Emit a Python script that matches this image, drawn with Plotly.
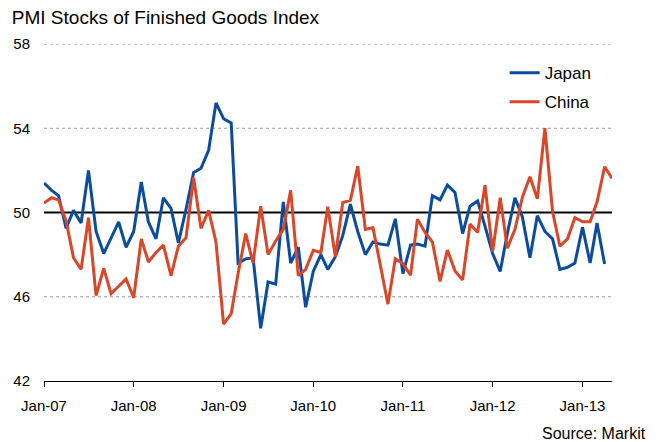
import pandas as pd
import plotly.graph_objects as go

months = pd.date_range("2007-01-01", "2013-05-01", freq="MS")

japan = [51.4, 51.05, 50.8, 49.25, 50.1, 49.5, 52.0, 49.1, 48.05, 48.8, 49.55, 48.35,
         49.1, 51.45, 49.55, 48.75, 50.7, 50.2, 48.55, 50.15, 51.9, 52.1, 52.95, 55.2,
         54.45, 54.25, 47.6, 47.8, 47.85, 44.5, 46.7, 46.6, 50.5, 47.6, 48.35, 45.5,
         47.2, 48.0, 47.3, 47.9, 48.9, 50.4, 49.1, 48.0, 48.6, 48.5, 48.45, 49.7,
         47.1, 48.45, 48.5, 48.4, 50.8, 50.6, 51.3, 50.95, 49.0, 50.3, 50.55, 49.35,
         48.05, 47.2, 49.0, 50.7, 49.8, 47.85, 49.85, 49.1, 48.75, 47.3, 47.4, 47.6,
         49.3, 47.6, 49.5, 47.55, None]

china = [50.45, 50.7, 50.6, 49.6, 47.85, 47.3, 49.75, 46.05, 47.35, 46.15, 46.5, 46.85,
         45.95, 48.75, 47.65, 48.1, 48.45, 47.0, 48.4, 48.8, 51.65, 49.25, 50.1, 48.6,
         44.7, 45.2, 47.1, 49.0, 47.6, 50.3, 48.0, 48.65, 49.2, 51.05, 47.0, 47.3,
         48.2, 48.1, 50.27, 47.9, 50.47, 50.58, 52.2, 49.2, 49.28, 47.45, 45.65, 47.8,
         47.57, 47.02, 49.68, 49.05, 48.6, 46.73, 48.22, 47.22, 46.8, 49.45, 49.05, 51.3,
         48.15, 50.7, 48.3, 49.2, 50.72, 51.7, 50.65, 54.0, 50.05, 48.4, 48.75, 49.76,
         49.56, 49.56, 50.5, 52.17, 51.63]

y_ticks = [42, 46, 50, 54, 58]
grid_levels = [46, 54, 58]
ref_level = 50

FONT = "Liberation Sans, Arial, sans-serif"

fig = go.Figure()
fig.add_trace(go.Scatter(x=months, y=japan, name="Japan", mode="lines",
                         line=dict(color="#0B4C9C", width=3), legendgroup="a"))
fig.add_trace(go.Scatter(x=months, y=china, name="China", mode="lines",
                         line=dict(color="#D9472B", width=3), legendgroup="b"))

for g in grid_levels:
    fig.add_shape(type="line", xref="paper", x0=0, x1=1, yref="y", y0=g, y1=g,
                  line=dict(color="#9a9a9a", width=1, dash="dot"), layer="below")
fig.add_shape(type="line", xref="paper", x0=0, x1=1, yref="y", y0=ref_level, y1=ref_level,
              line=dict(color="black", width=2), layer="below")

fig.update_layout(
    width=657, height=442,
    margin=dict(l=44, r=45, t=44, b=61),
    paper_bgcolor="white", plot_bgcolor="white",
    font=dict(family=FONT, color="black", size=15),
    title=dict(text="PMI Stocks of Finished Goods Index", xref="container", yref="container",
               x=0.018, xanchor="left", y=0.961, yanchor="middle",
               font=dict(size=19, family=FONT, color="black")),
    showlegend=True,
    legend=dict(x=0.811, y=0.967, xanchor="left", yanchor="top", bgcolor="rgba(0,0,0,0)",
                font=dict(size=17, family=FONT), tracegroupgap=4, traceorder="grouped"),
    xaxis=dict(range=["2007-01-01", "2013-05-01"], type="date", tickformat="%b-%y",
               dtick="M12", tick0="2007-01-01", showgrid=False, showline=True,
               linecolor="black", linewidth=1, ticks="outside", ticklen=5,
               tickcolor="black", tickfont=dict(size=15), ticklabelstandoff=6),
    yaxis=dict(range=[42, 58], tickvals=y_ticks, showgrid=False, showline=False,
               zeroline=False, tickfont=dict(size=15), ticklabelstandoff=13),
    annotations=[dict(text="Source: Markit", xref="paper", yref="paper", x=1.063, y=-0.157,
                      xanchor="right", yanchor="middle", showarrow=False,
                      font=dict(size=16, family=FONT))],
)

fig.write_html("out.html")
